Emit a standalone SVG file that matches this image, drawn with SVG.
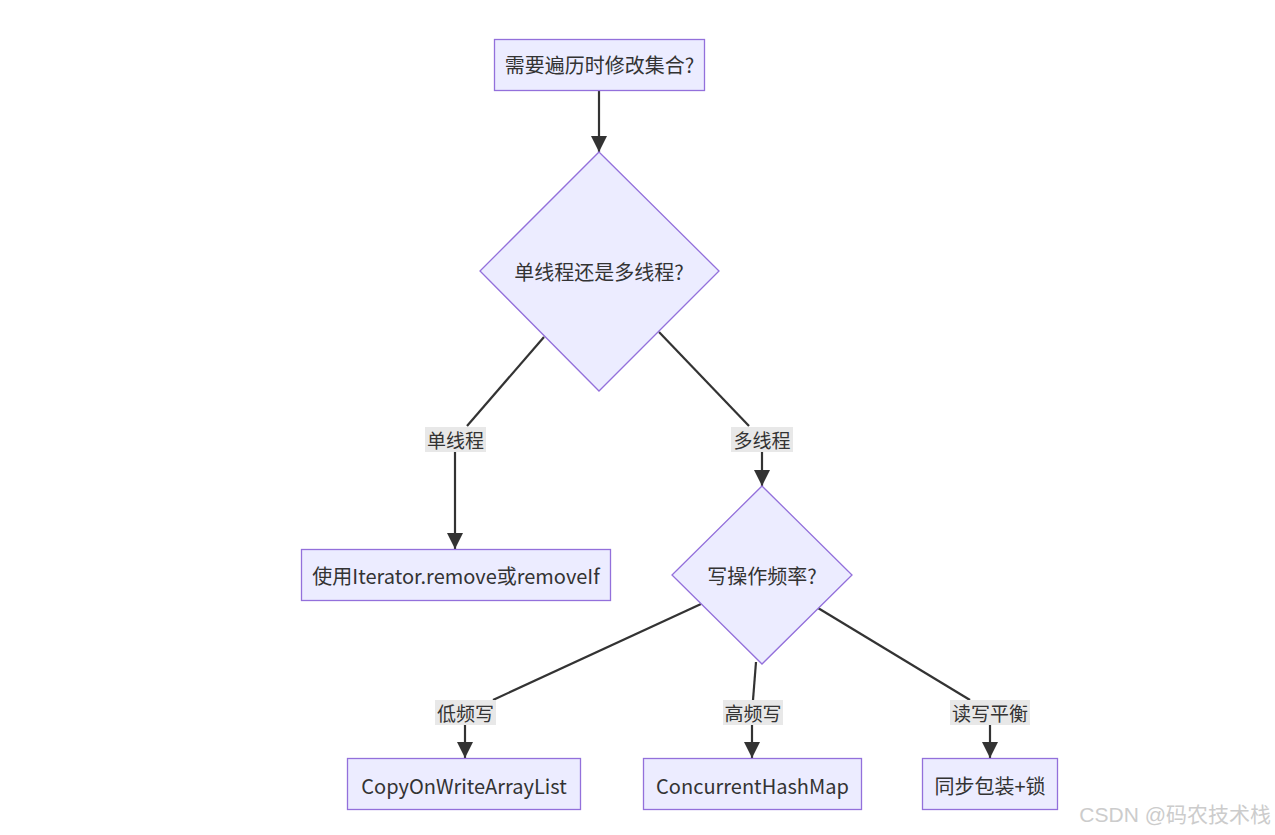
<svg xmlns="http://www.w3.org/2000/svg" width="1275" height="835" viewBox="0 0 1275 835">
<style>
.node rect,.node polygon{fill:#ECECFF;stroke:#9370DB;stroke-width:1.3}
text{font-family:"Noto Sans CJK SC","Liberation Sans",sans-serif;font-size:20px;fill:#333;text-anchor:middle;dominant-baseline:central}
.edge{fill:none;stroke:#333;stroke-width:2.2}
.lbl rect{fill:#e8e8e8}
.lbl text{font-size:19px}
.wm{font-family:"Liberation Sans","Noto Sans CJK SC",sans-serif;font-size:21px;fill:#cccccc;text-anchor:end;dominant-baseline:auto}
</style>
<defs>
<marker id="arr" markerUnits="userSpaceOnUse" markerWidth="16" markerHeight="16" viewBox="0 0 16 16" refX="16" refY="8" orient="auto">
<path d="M0,0 L16,8 L0,16 z" fill="#333"/>
</marker>
</defs>
<rect width="1275" height="835" fill="#fff"/>
<g id="edges">
<path class="edge" d="M599,90 L599,152" marker-end="url(#arr)"/>
<path class="edge" d="M544,337 L467,426"/>
<path class="edge" d="M455,452 L455,549" marker-end="url(#arr)"/>
<path class="edge" d="M659,332 L749,426"/>
<path class="edge" d="M762,452 L762,486" marker-end="url(#arr)"/>
<path class="edge" d="M701,604 L493,700"/>
<path class="edge" d="M465,725 L465,758" marker-end="url(#arr)"/>
<path class="edge" d="M756,662 L753,700"/>
<path class="edge" d="M752,725 L752,758" marker-end="url(#arr)"/>
<path class="edge" d="M818,608 L970,700"/>
<path class="edge" d="M990,725 L990,758" marker-end="url(#arr)"/>
</g>
<g id="labels">
<g class="lbl"><rect x="425" y="427" width="61" height="25"/><text x="455.5" y="439">单线程</text></g>
<g class="lbl"><rect x="731" y="427" width="62" height="25"/><text x="762" y="439">多线程</text></g>
<g class="lbl"><rect x="435" y="700" width="61" height="25"/><text x="465.5" y="712">低频写</text></g>
<g class="lbl"><rect x="723" y="700" width="60" height="25"/><text x="753" y="712">高频写</text></g>
<g class="lbl"><rect x="950" y="700" width="80" height="25"/><text x="990" y="712">读写平衡</text></g>
</g>
<g id="n1" class="node"><rect x="494.5" y="39.5" width="210" height="51"/><text x="599.5" y="64">需要遍历时修改集合?</text></g>
<g id="n2" class="node"><polygon points="599,152 719,271 599,391 480,271"/><text x="599" y="271">单线程还是多线程?</text></g>
<g id="n3" class="node"><rect x="301.5" y="549.5" width="309" height="51"/><text x="456" y="575">使用Iterator.remove或removeIf</text></g>
<g id="n4" class="node"><polygon points="762,486 852,575 762,664 672,575"/><text x="762" y="575">写操作频率?</text></g>
<g id="n5" class="node"><rect x="347.5" y="758.5" width="233" height="51"/><text x="464" y="785">CopyOnWriteArrayList</text></g>
<g id="n6" class="node"><rect x="643.5" y="758.5" width="218" height="51"/><text x="752.5" y="785">ConcurrentHashMap</text></g>
<g id="n7" class="node"><rect x="922.5" y="758.5" width="135" height="51"/><text x="990" y="785">同步包装+锁</text></g>
<text class="wm" x="1271" y="822">CSDN @码农技术栈</text>
</svg>
